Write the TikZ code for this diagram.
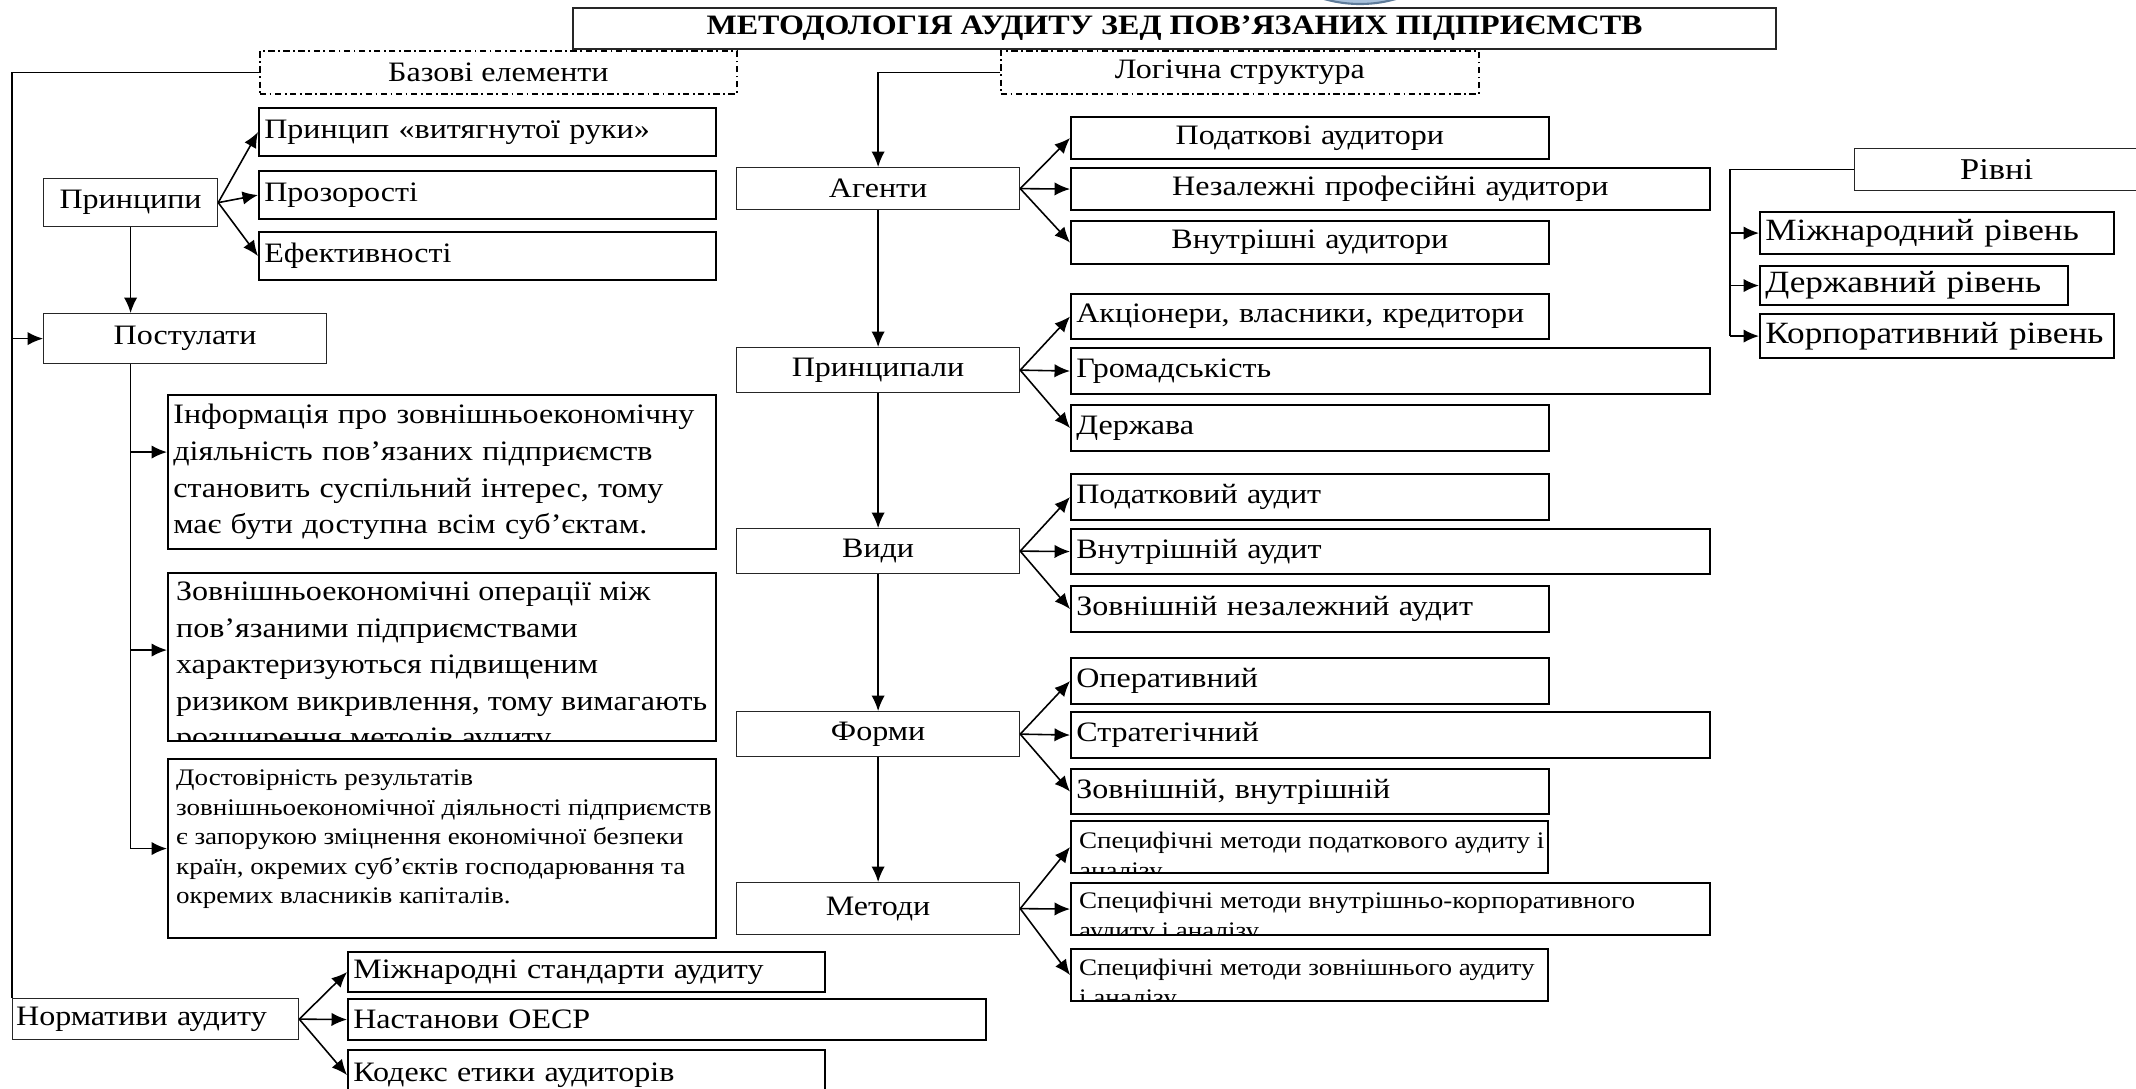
\documentclass[tikz,border=0pt]{standalone}
\usepackage{fontspec}
\setmainfont{Liberation Serif}[FakeStretch=1.14]
\usetikzlibrary{arrows.meta}
\definecolor{logoblue}{HTML}{A9C2DC}
\definecolor{logoedge}{HTML}{5F7C9A}

\tikzset{
	txt/.style={font=\fontsize{8pt}{10.4pt}\selectfont},
	big/.style={font=\fontsize{8.8pt}{11pt}\selectfont},
	small/.style={font=\fontsize{6.75pt}{8.4pt}\selectfont},
	head/.style={draw=black!85, line width=0.35pt, anchor=north west, inner sep=0pt, align=center, txt},
	kid/.style={draw, line width=0.6pt, anchor=north west, inner xsep=1.5pt, inner ysep=0pt, align=left, txt},
	kidc/.style={kid, align=center},
	cutbox/.style={draw, line width=0.6pt, anchor=north west, inner sep=0pt},
	cuttext/.style n args={3}{path picture={\node[draw=none, fill=none, minimum width=0pt, minimum height=0pt, #1, anchor=north west, inner sep=0pt, align=left] at ([shift={(2pt,-#2)}]path picture bounding box.north west) {#3};}},
	frame/.style={draw, line width=0.5pt, dash pattern=on 1.8pt off 1pt on 0.5pt off 1pt, anchor=north west, inner sep=0pt, align=center, txt},
	link/.style={line width=0.45pt},
	arr/.style={link, -{Latex[length=4.4pt,width=3.8pt]}},
}

\begin{document}
\begin{tikzpicture}
	\useasboundingbox (0,0) rectangle (21.36,-10.88);
	\draw[draw=logoedge, fill=logoblue, line width=0.6pt] (13.60,1.26) circle[radius=1.30];

	\node[head, line width=0.6pt, minimum width=12.03cm, minimum height=0.41cm, font=\fontsize{8pt}{10pt}\selectfont\bfseries] (title) at (5.72,-0.07) {МЕТОДОЛОГІЯ АУДИТУ ЗЕД ПОВ’ЯЗАНИХ ПІДПРИЄМСТВ};
	\node[frame, minimum width=4.77cm, minimum height=0.43cm] (base) at (2.59,-0.50) {Базові елементи};
	\node[frame, minimum width=4.78cm, minimum height=0.43cm] (logic) at (10.00,-0.50) {Логічна структура};

	% базові елементи
	\node[head, minimum width=1.74cm, minimum height=0.48cm] (princ) at (0.43,-1.78) {Принципи};
	\node[kid, text width=4.46cm, minimum height=0.48cm] (pr1) at (2.58,-1.07) {Принцип «витягнутої руки»};
	\node[kid, text width=4.46cm, minimum height=0.48cm] (pr2) at (2.58,-1.70) {Прозорості};
	\node[kid, text width=4.46cm, minimum height=0.48cm] (pr3) at (2.58,-2.31) {Ефективності};
	\node[head, minimum width=2.83cm, minimum height=0.50cm] (post) at (0.43,-3.13) {Постулати};

	\node[kid, text width=5.37cm, minimum height=1.54cm] (info1) at (1.67,-3.94) {Інформація про зовнішньоекономічну\\діяльність пов’язаних підприємств\\становить суспільний інтерес, тому\\має бути доступна всім суб’єктам.};
	\node[cutbox, minimum width=5.48cm, minimum height=1.68cm, cuttext={txt}{0.08cm}{Зовнішньоекономічні операції між\\пов’язаними підприємствами\\характеризуються підвищеним\\ризиком викривлення, тому вимагають\\розширення методів аудиту.}] (info2) at (1.67,-5.72) {};
	\node[cutbox, minimum width=5.48cm, minimum height=1.79cm, cuttext={small}{0.10cm}{Достовірність результатів\\зовнішньоекономічної діяльності підприємств\\є запорукою зміцнення економічної безпеки\\країн, окремих суб’єктів господарювання та\\окремих власників капіталів.}] (info3) at (1.67,-7.58) {};

	\node[head, align=left, inner xsep=1pt, text width=2.79cm, minimum height=0.41cm] (norm) at (0.12,-9.98) {Нормативи аудиту};
	\node[kid, text width=4.66cm, minimum height=0.40cm] (n1) at (3.47,-9.51) {Міжнародні стандарти аудиту};
	\node[kid, text width=6.27cm, minimum height=0.41cm] (n2) at (3.47,-9.98) {Настанови ОЕСР};
	\node[kid, text width=4.66cm, minimum height=0.50cm] (n3) at (3.47,-10.49) {Кодекс етики аудиторів};

	% логічна структура
	\node[head, minimum width=2.83cm, minimum height=0.42cm] (agent) at (7.36,-1.67) {Агенти};
	\node[kidc, text width=4.67cm, minimum height=0.42cm] (a1) at (10.70,-1.16) {Податкові аудитори};
	\node[kidc, text width=6.28cm, minimum height=0.42cm] (a2) at (10.70,-1.67) {Незалежні професійні аудитори};
	\node[kidc, text width=4.67cm, minimum height=0.43cm] (a3) at (10.70,-2.20) {Внутрішні аудитори};

	\node[head, minimum width=2.83cm, minimum height=0.45cm] (princl) at (7.36,-3.47) {Принципали};
	\node[kid, text width=4.67cm, minimum height=0.45cm] (b1) at (10.70,-2.93) {Акціонери, власники, кредитори};
	\node[kid, text width=6.28cm, minimum height=0.46cm] (b2) at (10.70,-3.47) {Громадськість};
	\node[kid, text width=4.67cm, minimum height=0.46cm] (b3) at (10.70,-4.04) {Держава};

	\node[head, minimum width=2.83cm, minimum height=0.45cm] (vydy) at (7.36,-5.28) {Види};
	\node[kid, text width=4.67cm, minimum height=0.46cm] (c1) at (10.70,-4.73) {Податковий аудит};
	\node[kid, text width=6.28cm, minimum height=0.45cm] (c2) at (10.70,-5.28) {Внутрішній аудит};
	\node[kid, text width=4.67cm, minimum height=0.46cm] (c3) at (10.70,-5.85) {Зовнішній незалежний аудит};

	\node[head, minimum width=2.83cm, minimum height=0.45cm] (form) at (7.36,-7.11) {Форми};
	\node[kid, text width=4.67cm, minimum height=0.46cm] (d1) at (10.70,-6.57) {Оперативний};
	\node[kid, text width=6.28cm, minimum height=0.46cm] (d2) at (10.70,-7.11) {Стратегічний};
	\node[kid, text width=4.67cm, minimum height=0.45cm] (d3) at (10.70,-7.68) {Зовнішній, внутрішній};

	\node[head, minimum width=2.83cm, minimum height=0.52cm] (meth) at (7.36,-8.82) {Методи};
	\node[cutbox, minimum width=4.77cm, minimum height=0.52cm, cuttext={small}{0.10cm}{Специфічні методи податкового аудиту і\\аналізу}] (e1) at (10.70,-8.20) {};
	\node[cutbox, minimum width=6.39cm, minimum height=0.52cm, cuttext={small}{0.08cm}{Специфічні методи внутрішньо-корпоративного\\аудиту і аналізу}] (e2) at (10.70,-8.82) {};
	\node[cutbox, minimum width=4.77cm, minimum height=0.52cm, cuttext={small}{0.09cm}{Специфічні методи зовнішнього аудиту\\і аналізу}] (e3) at (10.70,-9.48) {};

	% рівні
	\node[head, minimum width=2.84cm, minimum height=0.42cm, font=\fontsize{8.6pt}{10pt}\selectfont] (lvl) at (18.54,-1.48) {Рівні};
	\node[kid, big, text width=3.43cm, minimum height=0.42cm] (l1) at (17.59,-2.11) {\mbox{Міжнародний рівень}};
	\node[kid, big, text width=2.97cm, minimum height=0.39cm] (l2) at (17.59,-2.65) {\mbox{Державний рівень}};
	\node[kid, big, text width=3.43cm, minimum height=0.44cm] (l3) at (17.59,-3.13) {\mbox{Корпоративний рівень}};

	\draw[link] (base.west) -| (norm.north west);
	\draw[arr] (post.west -| norm.north west) -- (post.west);
	\draw[arr] (princ.south) -- (princ.south |- post.north);
	\foreach \k in {pr1,pr2,pr3}
		\draw[arr] (princ.east) -- (\k.west);

	\coordinate (pbus) at (princ.south |- post.south);
	\coordinate (i1) at ([yshift=0.2cm]info1.west);
	\coordinate (i2) at ([yshift=0.07cm]info2.west);
	\coordinate (i3) at (info3.west);
	\draw[link] (pbus) -- (pbus |- i3);
	\foreach \k in {i1,i2,i3}
		\draw[arr] (pbus |- \k) -- (\k);

	\foreach \k in {n1,n2,n3}
		\draw[arr] (norm.east) -- (\k.west);

	\draw[arr] (logic.west) -| (agent.north);
	\foreach \a/\b in {agent/princl, princl/vydy, vydy/form, form/meth}
		\draw[arr] (\a.south) -- (\b.north);
	\foreach \a/\k in {agent/a, princl/b, vydy/c, form/d, meth/e}
		\foreach \i in {1,2,3}
			\draw[arr] (\a.east) -- (\k\i.west);

	\coordinate (lbus) at ([xshift=-0.29cm]l3.west);
	\draw[link] (lvl.west) -| (lbus);
	\foreach \k in {l1,l2,l3}
		\draw[arr] (lbus |- \k.west) -- (\k.west);
\end{tikzpicture}
\end{document}
